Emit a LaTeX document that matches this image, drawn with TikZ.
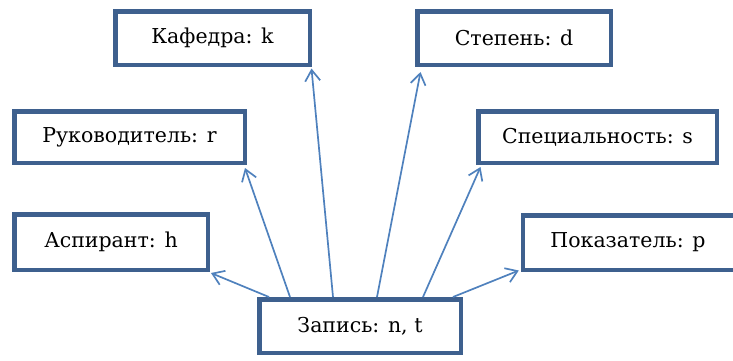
\documentclass[tikz,border=0pt]{standalone}
\usepackage{fontspec}
\setmainfont{DejaVu Serif}
\usetikzlibrary{arrows.meta}
\definecolor{boxblue}{RGB}{62,96,142}
\definecolor{arrblue}{RGB}{79,129,189}
\tikzset{
  ebox/.style={draw=boxblue, line width=4.5pt, fill=white, rectangle, inner sep=0pt,
    font=\fontsize{20.5}{24}\selectfont, text=black},
  conn/.style={draw=arrblue, line width=1.7pt, -{Straight Barb[length=11pt,width=15pt,line width=1.7pt]}}
}
\begin{document}
\begin{tikzpicture}[x=1pt,y=-1pt]
\useasboundingbox (0,0) rectangle (733,360);
\clip (0,0) rectangle (733,360);
\node[ebox, minimum width=194.5pt, minimum height=53.5pt] (kaf) at (212.5,38) {Кафедра: k};
\node[ebox, minimum width=193.5pt, minimum height=53.5pt] (step) at (514,38) {Степень: d};
\node[ebox, minimum width=230.5pt, minimum height=51.5pt] (ruk) at (129.5,137) {Руководитель: r};
\node[ebox, minimum width=238.5pt, minimum height=51.5pt] (spec) at (597.5,137) {Специальность: s};
\node[ebox, minimum width=193.5pt, minimum height=55.5pt] (asp) at (111,242) {Аспирант: h};
\node[ebox, minimum width=212pt, minimum height=54.5pt] (pok) at (629,242.5) {\hspace*{-2pt}Показатель: p};
\node[ebox, minimum width=201.5pt, minimum height=53.5pt] (zap) at (360,326) {Запись: n, t};
\draw[conn] ([xshift=-91pt]zap.north) -- ([xshift=1pt,yshift=-1pt]asp.south east);
\draw[conn] ([xshift=-70pt]zap.north) -- ([xshift=-2pt,yshift=-3pt]ruk.south east);
\draw[conn] ([xshift=-27pt]zap.north) -- ([xshift=-0.5pt,yshift=-1.5pt]kaf.south east);
\draw[conn] ([xshift=17pt]zap.north) -- ([xshift=5.5pt,yshift=-5pt]step.south west);
\draw[conn] ([xshift=63pt]zap.north) -- ([xshift=4.5pt,yshift=-2pt]spec.south west);
\draw[conn] ([xshift=93pt]zap.north) -- ([xshift=-2pt,yshift=1.5pt]pok.south west);
\end{tikzpicture}
\end{document}
